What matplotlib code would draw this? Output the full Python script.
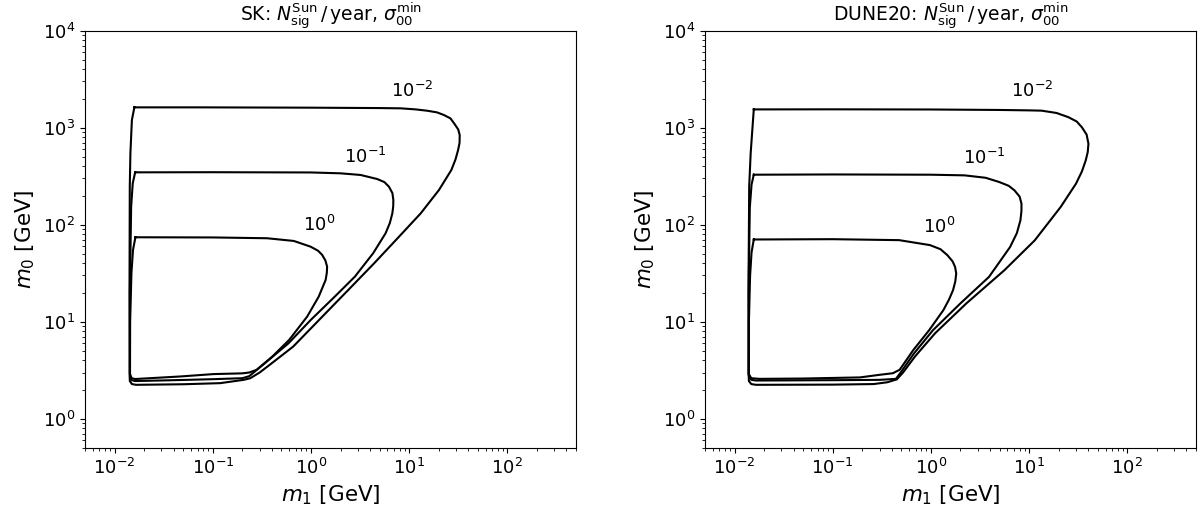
import matplotlib
matplotlib.use("Agg")
import matplotlib.pyplot as plt

# iso-N contours in the (m1, m0) plane, GeV; each list is one closed path
levels = [r"$10^{-2}$", r"$10^{-1}$", r"$10^{0}$"]

# --- SK ---
sk_m1_a = [0.0159, 0.0745, 1.0, 5.0, 8.19, 11.6, 15.3, 19.2, 22.6, 26.3, 28.7, 31.6, 32.7, 32.6, 31.5,
           29.6, 26.9, 20.1, 13.1, 7.9, 4.4, 2.4, 1.26, 0.66, 0.38, 0.30, 0.241, 0.206, 0.119,
           0.05, 0.0165, 0.0150, 0.0143, 0.0142, 0.0142, 0.01428, 0.01449, 0.0150, 0.0159]
sk_m0_a = [1622, 1622, 1610, 1595, 1585, 1546, 1497, 1440, 1352, 1250, 1109, 960, 841, 700, 589,
           470, 367, 228, 131, 75.5, 40.1, 21.3, 10.9, 5.56, 3.60, 3.0, 2.62, 2.52, 2.33,
           2.27, 2.24, 2.28, 2.45, 3.0, 30, 247, 545, 1200, 1622]

sk_m1_b = [0.0162, 0.1, 1.0, 2.0, 3.2, 4.73, 5.6, 6.22, 6.75, 6.9, 6.88, 6.74, 6.35, 5.75, 4.3,
           2.8, 1.75, 1.0, 0.59, 0.355, 0.235, 0.2, 0.1, 0.04, 0.0162, 0.0149, 0.01435, 0.0143,
           0.01474, 0.0153, 0.0162]
sk_m0_b = [347, 348, 346, 339, 326, 296, 275, 247, 212, 180, 155, 131, 104, 81.7, 50.9,
           29.2, 18.2, 10.5, 6.0, 3.89, 2.75, 2.62, 2.56, 2.5, 2.45, 2.5, 2.8, 20,
           153, 267, 347]

sk_m1_c = [0.0163, 0.1, 0.357, 0.668, 0.989, 1.18, 1.30, 1.40, 1.46, 1.45, 1.41, 1.20, 0.914,
           0.60, 0.405, 0.28, 0.235, 0.2, 0.102, 0.0466, 0.0162, 0.0149, 0.01435, 0.0144,
           0.01484, 0.0154, 0.0163]
sk_m0_c = [74.3, 74, 72.6, 68.1, 59.5, 54, 48.9, 43, 37.0, 32, 27.0, 18.2, 11.3,
           6.51, 4.39, 3.20, 3.0, 2.94, 2.89, 2.73, 2.57, 2.62, 2.9, 10,
           31.7, 55, 74.3]

# --- DUNE20 ---
du_m1_a = [0.0157, 0.1, 1.0, 5.0, 10.0, 13.4, 19.0, 25.1, 30.5, 34.4, 38.5, 40.2, 39.5, 37.7,
           34.5, 30.0, 21.0, 11.4, 5.6, 2.3, 1.1, 0.69, 0.52, 0.45, 0.36, 0.26, 0.1, 0.0165,
           0.0148, 0.0140, 0.0139, 0.0139, 0.0141, 0.0146, 0.0157]
du_m0_a = [1545, 1548, 1542, 1525, 1510, 1500, 1420, 1285, 1160, 1014, 850, 684, 560, 460,
           355, 265, 153, 69, 34, 15.5, 7.6, 4.4, 3.0, 2.55, 2.38, 2.28, 2.25, 2.24,
           2.28, 2.45, 3.0, 30, 250, 550, 1545]

du_m1_b = [0.0157, 0.1, 1.0, 2.2, 3.6, 4.95, 6.2, 7.1, 8.0, 8.36, 8.35, 8.15, 7.5, 6.4, 3.9,
           2.0, 1.05, 0.67, 0.5, 0.44, 0.3, 0.1, 0.0165, 0.0148, 0.01395, 0.0139, 0.0143,
           0.0149, 0.0157]
du_m0_b = [328, 330, 328, 323, 305, 276, 252, 226, 195, 165, 138, 111, 82, 59, 29,
           15.5, 8.2, 4.7, 3.07, 2.58, 2.52, 2.5, 2.48, 2.52, 2.8, 20, 150,
           260, 328]

du_m1_c = [0.0157, 0.1, 0.475, 0.977, 1.25, 1.47, 1.66, 1.76, 1.81, 1.77, 1.68, 1.53, 1.34,
           0.96, 0.66, 0.55, 0.48, 0.41, 0.30, 0.189, 0.05, 0.018, 0.0148, 0.01395, 0.0140,
           0.0144, 0.0149, 0.0157]
du_m0_c = [70.5, 71, 69.4, 61.7, 56, 48.6, 42, 36.9, 31.5, 26, 21.2, 17, 13.2,
           8.2, 5.1, 3.9, 3.2, 2.95, 2.84, 2.67, 2.6, 2.58, 2.62, 2.9, 10,
           30, 52, 70.5]

sk_label_xy = [(10.8, 2405), (3.6, 495), (1.2, 99.5)]
du_label_xy = [(10.7, 2380), (3.46, 491), (1.22, 95)]

panels = [
    ("SK", [(sk_m1_a, sk_m0_a), (sk_m1_b, sk_m0_b), (sk_m1_c, sk_m0_c)], sk_label_xy),
    ("DUNE20", [(du_m1_a, du_m0_a), (du_m1_b, du_m0_b), (du_m1_c, du_m0_c)], du_label_xy),
]

fig = plt.figure(figsize=(12.01, 5.12), dpi=100)
axes = [fig.add_axes([0.0708, 0.125, 0.4088, 0.815]),
        fig.add_axes([0.587, 0.125, 0.4088, 0.815])]

for ax, (name, curves, label_xy) in zip(axes, panels):
    for m1, m0 in curves:
        ax.plot(m1, m0, color="k", lw=1.5)
    for lab, (x, y) in zip(levels, label_xy):
        ax.text(x, y, lab, fontsize=13, ha="center", va="center")
    ax.set_xscale("log")
    ax.set_yscale("log")
    ax.set_xlim(5e-3, 5e2)
    ax.set_ylim(0.5, 1e4)
    ax.tick_params(labelsize=13)
    ax.set_xlabel(r"$m_1$ [GeV]", fontsize=15.5)
    ax.set_ylabel(r"$m_0$ [GeV]", fontsize=15.5)
    ax.set_title(name + r": $N^{\rm Sun}_{\rm sig}\,/\,{\rm year}$, $\sigma_{00}^{\rm min}$",
                 fontsize=13.5)

fig.savefig("out.png", dpi=100)
